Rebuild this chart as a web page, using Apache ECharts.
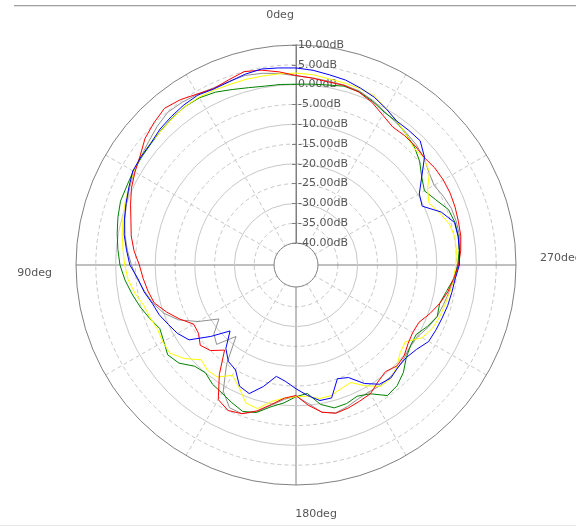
<!DOCTYPE html>
<html>
<head>
<meta charset="utf-8">
<script src="https://cdn.jsdelivr.net/npm/echarts@6/dist/echarts.min.js"></script>
<style>
html,body{margin:0;padding:0;background:#fff;}
#chart{width:576px;height:526px;}
</style>
</head>
<body>
<div id="chart"></div>
<script>
// angle of each sample, degrees (0 = top, counter-clockwise)
const angles = [0,5,10,15,20,25,30,35,40,45,50,55,60,65,70,75,80,85,90,95,100,105,110,115,120,125,130,135,140,145,150,155,160,165,170,175,
  180,185,190,195,200,205,210,215,220,225,230,235,240,245,250,255,260,265,270,275,280,285,290,295,300,305,310,315,320,325,330,335,340,345,350,355];

const redDb = [2.3,3.4,4.4,5.0,4.2,3.6,4.3,5.4,6.1,5.2,4.2,2.5,1.4,0.3,-1.1,-2.4,-3.3,-4.5,-6.0,-6.8,-7.6,-8.5,-10.8,-13.2,-15.7,-15.5,-14.0,-15.0,-17.5,-11.8,-6.3,-5.0,-5.6,-7.4,-9.8,-11.8,
  -12.6,-10.0,-7.8,-6.8,-7.1,-7.6,-8.0,-9.5,-10.4,-9.5,-9.9,-11.0,-11.5,-11.3,-9.6,-8.0,-6.6,-5.6,-4.5,-3.8,-3.3,-3.1,-2.8,-2.6,-2.6,-2.8,-3.3,-3.0,-2.9,-3.0,-1.8,-0.2,0.9,1.4,1.4,1.8];

const blueDb = [4.2,4.4,4.7,4.3,3.7,3.5,4.0,3.8,3.4,3.0,2.3,2.2,2.0,1.0,0.1,-0.7,-1.5,-2.6,-3.6,-5.5,-6.6,-8.0,-8.8,-10.0,-11.0,-12.6,-17.5,-22.0,-18.0,-15.8,-15.0,-11.8,-11.0,-13.8,-17.0,-16.0,
  -14.3,-12.5,-10.8,-10.8,-15.0,-14.2,-11.0,-8.8,-8.3,-9.1,-9.2,-8.4,-6.9,-6.6,-6.3,-5.9,-5.6,-5.2,-4.3,-4.1,-4.0,-4.1,-6.5,-10.4,-9.6,-6.8,-3.2,-1.2,-1.2,-1.2,0.0,1.2,2.0,2.8,3.2,3.8];

const yellowDb = [2.9,2.9,2.9,3.0,3.0,3.2,3.4,3.3,2.9,2.5,2.4,2.3,1.7,1.0,0.4,-0.3,-1.0,-1.7,-2.3,-3.0,-4.3,-5.8,-6.4,-7.0,-6.7,-6.7,-8.8,-11.7,-10.8,-11.0,-13.4,-11.5,-8.5,-8.0,-10.6,-11.8,
  -12.3,-12.3,-11.3,-11.4,-12.3,-12.8,-10.3,-8.2,-8.2,-9.5,-11.2,-11.8,-8.8,-7.6,-7.0,-6.6,-6.1,-5.6,-5.2,-4.9,-4.8,-5.5,-7.0,-8.5,-7.2,-4.4,-3.5,-3.6,-2.4,-1.2,0.0,1.5,1.8,2.0,2.2,2.7];

const greenDb = [0.1,0.2,0.3,0.8,1.6,2.6,3.2,3.3,3.0,2.6,2.2,2.0,1.9,1.6,1.6,1.0,0.3,-0.4,-1.1,-2.2,-3.5,-4.8,-6.2,-7.6,-7.0,-6.0,-7.0,-9.4,-10.0,-8.8,-8.2,-7.2,-6.2,-7.0,-9.2,-10.6,
  -12.3,-13.0,-9.8,-8.2,-8.3,-9.0,-8.0,-5.3,-5.8,-7.2,-9.2,-10.2,-10.5,-8.9,-7.6,-8.0,-7.0,-5.6,-4.7,-4.2,-3.9,-4.0,-4.6,-6.6,-8.1,-6.8,-4.8,-3.3,-2.4,-1.3,-1.0,0.1,1.0,1.2,0.6,0.3];

const grayDb = [2.2,3.0,3.6,4.0,3.8,3.8,4.2,4.6,4.8,4.0,3.0,2.2,1.6,0.8,0.0,-0.8,-1.7,-2.8,-4.0,-5.3,-6.8,-8.2,-10.0,-12.8,-17.0,-21.8,-18.5,-17.2,-22.0,-15.0,-8.8,-5.8,-5.6,-7.2,-9.6,-11.5,
  -12.4,-10.5,-7.8,-6.9,-7.5,-8.3,-8.6,-8.4,-8.6,-9.0,-9.6,-10.2,-9.8,-8.6,-7.6,-7.0,-6.3,-5.4,-4.6,-4.0,-3.6,-3.6,-3.8,-4.5,-5.3,-4.6,-3.4,-2.6,-2.1,-1.6,-0.8,0.3,1.2,1.5,1.6,1.9];

const angleTickLabels = {0: '0deg', 90: '90deg', 180: '180deg', 270: '270deg'};
const angleRichKeys = {0: 'a', 90: 'b', 180: 'c', 270: 'd'};

const FONT = 'DejaVu Sans';
const TXT = '#555555';

function toPairs(vals) {
  const d = angles.map((a, i) => [vals[i], a]);
  d.push([vals[0], 360]);
  return d;
}

function trace(name, vals, color) {
  return {
    name: name, type: 'line', coordinateSystem: 'polar', polarIndex: 0,
    data: toPairs(vals), symbol: 'none', showSymbol: false, smooth: false,
    lineStyle: {color: color, width: 1}, itemStyle: {color: color},
    silent: true, animation: false, z: 5
  };
}

const chart = echarts.init(document.getElementById('chart'), null, {renderer: 'canvas'});
const CX = 296, CY = 265, R0 = 22, R1 = 220;
const pxPerDb = (R1 - R0) / 50;

chart.setOption({
  backgroundColor: '#ffffff',
  animation: false,
  polar: [
    {center: [CX, CY], radius: [R0, R1]},
    {center: [CX, CY], radius: [R0 + 5 * pxPerDb, R0 + 45 * pxPerDb]},
    {center: [CX, CY], radius: [R0, R1]}
  ],
  angleAxis: [
    {
      polarIndex: 0, type: 'value', min: 0, max: 360, interval: 30,
      startAngle: 90, clockwise: false,
      axisLine: {show: true, lineStyle: {color: '#808080', width: 1}},
      axisTick: {show: false},
      splitLine: {show: true, lineStyle: {color: ['rgba(0,0,0,0)', '#c8c8c8', '#c8c8c8'], type: [4, 3], width: 1}},
      axisLabel: {
        show: true, margin: 24,
        fontFamily: FONT, fontSize: 11, color: TXT,
        formatter: function (v) {
          const k = Math.round(v);
          if (angleTickLabels[k] !== undefined) return '{' + angleRichKeys[k] + '|' + angleTickLabels[k] + '}';
          return '';
        },
        rich: {
          a: {fontFamily: FONT, fontSize: 11, color: TXT, padding: [0, 32, 0, 0]},
          b: {fontFamily: FONT, fontSize: 11, color: TXT, padding: [16, 0, 0, 0]},
          c: {fontFamily: FONT, fontSize: 11, color: TXT, padding: [0, 0, 0, 40]},
          d: {fontFamily: FONT, fontSize: 11, color: TXT, padding: [0, 0, 14, 0]}
        }
      }
    },
    {
      polarIndex: 1, type: 'value', min: 0, max: 360, startAngle: 90, clockwise: false,
      axisLine: {show: false}, axisTick: {show: false}, axisLabel: {show: false}, splitLine: {show: false}
    },
    {
      polarIndex: 2, type: 'value', min: 0, max: 360, interval: 90, startAngle: 90, clockwise: false,
      axisLine: {show: false}, axisTick: {show: false}, axisLabel: {show: false},
      splitLine: {show: true, lineStyle: {color: '#808080', width: 1, type: 'solid'}}
    }
  ],
  radiusAxis: [
    {
      polarIndex: 0, type: 'value', min: -40, max: 10, interval: 5,
      axisLine: {show: true, lineStyle: {color: '#808080', width: 1}},
      axisTick: {show: true, inside: true, length: 4, lineStyle: {color: '#808080'}},
      axisLabel: {
        show: true, margin: -2, align: 'left', verticalAlign: 'middle',
        fontFamily: FONT, fontSize: 11, color: TXT,
        formatter: function (v) { return v.toFixed(2) + 'dB'; }
      },
      splitLine: {show: true, lineStyle: {width: 1, type: 'solid',
        color: ['rgba(0,0,0,0)', 'rgba(0,0,0,0)', '#c8c8c8', 'rgba(0,0,0,0)', '#c8c8c8', 'rgba(0,0,0,0)',
                '#c8c8c8', 'rgba(0,0,0,0)', '#c8c8c8', 'rgba(0,0,0,0)', 'rgba(0,0,0,0)']}},
      z: 3
    },
    {
      polarIndex: 1, type: 'value', min: 0, max: 40, interval: 10,
      axisLine: {show: false}, axisTick: {show: false}, axisLabel: {show: false},
      splitLine: {show: true, lineStyle: {color: '#c8c8c8', type: [4, 3], width: 1}}
    },
    {
      polarIndex: 2, type: 'value', min: 0, max: 1, show: false
    }
  ],
  graphic: [
    {type: 'line', shape: {x1: 14, y1: 5.5, x2: 576, y2: 5.5}, style: {stroke: '#a0a0a0', lineWidth: 1}, silent: true},
    {type: 'line', shape: {x1: 14, y1: 6.5, x2: 576, y2: 6.5}, style: {stroke: '#e4e4e4', lineWidth: 1}, silent: true},
    {type: 'line', shape: {x1: 0, y1: 525.5, x2: 576, y2: 525.5}, style: {stroke: '#e8e8e8', lineWidth: 1}, silent: true}
  ],
  series: [
    trace('gray', grayDb, '#909090'),
    trace('green', greenDb, '#008000'),
    trace('yellow', yellowDb, '#ffff00'),
    trace('red', redDb, '#ff0000'),
    trace('blue', blueDb, '#0000ff')
  ]
});
</script>
</body>
</html>
